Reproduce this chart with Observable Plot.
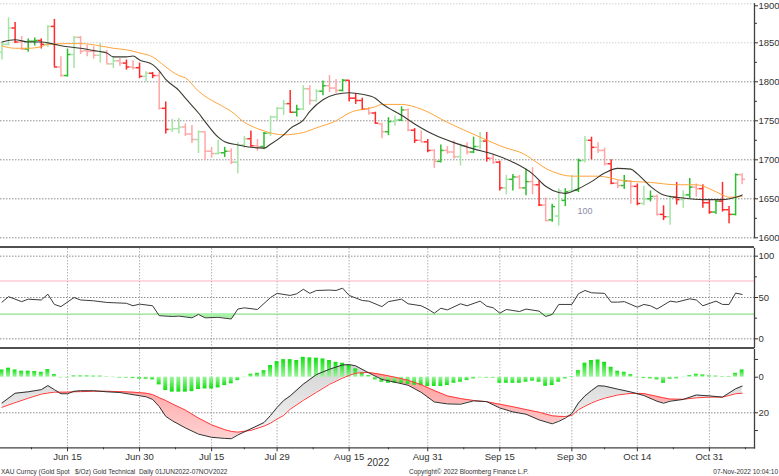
<!DOCTYPE html>
<html><head><meta charset="utf-8">
<script src="https://cdn.jsdelivr.net/npm/d3@7"></script>
<script src="https://cdn.jsdelivr.net/npm/@observablehq/plot@0.6"></script>
<style>
body{margin:0;background:#fff;}
#wrap{position:relative;width:779px;height:476px;overflow:hidden;font-family:"Liberation Sans",Arial,sans-serif;background:#fff;}
.panel{position:absolute;left:0;}
.sep{position:absolute;left:0;width:754px;height:2.5px;background:#505050;}
.txt{position:absolute;white-space:pre;color:#333;line-height:1;}
</style></head><body><div id="wrap"></div>
<script>
// ---------- DATA (trading-day index 0 = 1 Jun 2022 ... 113 = 7 Nov 2022) ----------
const opens  = [1838,1848,1869,1851,1842,1852,1853,1848,1871,1819,1808,1835,1857,1840,1839,1834,1838,1823,1827,1824,1819,1818,1807,1811,1808,1766,1739,1740,1742,1733,1726,1736,1711,1708,1709,1711,1697,1719,1727,1718,1717,1734,1755,1766,1772,1761,1765,1791,1776,1788,1795,1792,1789,1802,1779,1776,1765,1760,1746,1736,1749,1751,1764,1738,1725,1723,1712,1698,1712,1710,1704,1718,1710,1717,1724,1702,1697,1664,1675,1678,1664,1672,1668,1642,1623,1628,1648,1660,1661,1699,1725,1716,1712,1695,1670,1667,1673,1666,1644,1650,1653,1630,1627,1652,1649,1655,1665,1663,1645,1633,1647,1636,1630,1681];
const highs  = [1850,1882,1876,1858,1855,1856,1855,1872,1880,1832,1842,1858,1858,1847,1845,1849,1840,1832,1830,1828,1827,1824,1813,1812,1812,1774,1752,1753,1746,1744,1737,1736,1716,1725,1716,1714,1722,1730,1737,1726,1735,1756,1767,1776,1789,1770,1795,1795,1790,1801,1808,1803,1803,1802,1785,1779,1767,1761,1747,1754,1756,1768,1765,1740,1737,1726,1713,1719,1717,1724,1720,1722,1729,1735,1735,1707,1698,1680,1681,1680,1688,1690,1673,1651,1643,1663,1663,1680,1701,1730,1729,1722,1715,1700,1673,1680,1673,1669,1666,1660,1655,1641,1654,1671,1660,1676,1669,1668,1648,1648,1671,1640,1682,1682];
const lows   = [1828,1846,1849,1840,1838,1846,1842,1844,1819,1806,1806,1817,1835,1832,1829,1824,1823,1817,1820,1815,1815,1804,1800,1804,1764,1733,1735,1733,1730,1721,1708,1699,1702,1706,1703,1694,1682,1715,1716,1711,1713,1730,1750,1757,1760,1755,1763,1770,1774,1782,1786,1785,1787,1774,1771,1763,1757,1746,1727,1731,1743,1749,1736,1721,1722,1709,1689,1696,1707,1701,1692,1706,1708,1713,1697,1694,1660,1655,1660,1662,1654,1655,1640,1621,1620,1615,1640,1658,1658,1696,1700,1708,1692,1668,1663,1662,1643,1641,1641,1646,1628,1622,1616,1642,1638,1650,1652,1638,1630,1630,1633,1618,1628,1668];
const closes = [1848,1869,1851,1842,1852,1853,1848,1871,1819,1808,1835,1857,1839,1839,1834,1838,1823,1827,1824,1819,1818,1807,1811,1808,1766,1739,1740,1742,1733,1726,1736,1711,1708,1709,1711,1697,1719,1727,1718,1717,1734,1755,1766,1772,1761,1765,1791,1776,1788,1795,1792,1789,1802,1779,1776,1765,1760,1747,1736,1749,1751,1764,1738,1725,1723,1712,1698,1712,1710,1704,1718,1710,1717,1724,1702,1697,1664,1675,1678,1664,1672,1668,1642,1622,1640,1660,1659,1661,1699,1725,1716,1712,1695,1670,1667,1673,1666,1644,1650,1653,1630,1627,1652,1649,1655,1665,1663,1645,1633,1647,1636,1630,1681,1675];
// bar shade as printed: "b" strong, "p" light (10 days per group)
const tones = ["ppbpbbbpbp","bppppppppb","pbpbpbpppp","ppppbpppbp","bpppbbpppb",
               "ppbbbbpbpb","pbpbpbpbpp","ppbpbpbpbp","bpbpbpbpbp","bppbpbpbpb",
               "pbpbpbpbbb","bbbp"].join("").split("");

// moving averages (day index, value)
const maBlackDay = [0,2,4,6,8,10,12,14,16,17,19,20,21,23,24,25,27,28,30,31,33,34,36,38,40,41,43,44,46,47,49,51,53,55,57,58,61,63,66,69,72,75,78,81,83,85,86,88,90,92,94,96,97,99,101,104,107,110,112,113];
const maBlackVal = [1851,1854,1851,1851,1848,1845,1843,1840,1837,1832,1832,1833,1828,1822,1814,1803,1789,1779,1760,1749,1729,1723,1719,1716,1715,1720,1732,1740,1751,1762,1777,1784,1786,1784,1779,1772,1757,1746,1732,1722,1714,1707,1697,1682,1666,1658,1657,1663,1672,1683,1689,1688,1682,1666,1655,1651,1649,1649,1652,1655];
const maOrangeDay = [0,2,4,6,7,10,12,15,17,19,21,23,25,27,28,30,34,35,37,39,40,43,46,48,51,53,57,58,61,64,68,73,77,79,84,87,91,95,99,103,106,108,110,111,113];
const maOrangeVal = [1846,1843,1843,1845,1848,1849,1849,1846,1843,1841,1837,1832,1819,1808,1805,1788,1767,1762,1748,1740,1737,1732,1735,1741,1750,1760,1768,1771,1771,1765,1748,1729,1715,1710,1685,1679,1679,1673,1671,1668,1668,1663,1655,1652,1653];

// RSI panel
const rsiDay = [0,1,3,4,6,7,8,9,11,12,14,16,19,20,21,23,24,26,27,29,30,31,33,35,36,37,39,41,42,44,45,46,47,48,50,51,52,53,55,56,58,59,61,62,64,65,66,67,68,70,71,73,74,75,76,77,78,79,80,82,83,84,85,87,88,89,90,92,93,94,95,97,98,99,100,102,103,105,106,107,109,110,111,112,113];
const rsiVal = [44.4,51,45,48,47,54,41.6,39,50,47,46,44,43,40,42,40,28,27,27.5,25.4,29.5,25.4,26,24,36,37.5,35.5,50,55,52.5,54.5,60,55,58.5,59,58.5,61.3,52.5,46.4,45.6,39,45,48,42.4,40,36,31,37,35,42.4,40,45.6,39.5,37.5,31,35.5,34.3,33,36,33.5,27,29.5,41.6,41.6,54.5,58.5,55.7,55,44.4,44.4,45,38.3,41.6,40,36,45.6,44.4,48.4,47,40,45.6,41.6,41.6,55.3,53.7];
const rsiLevels = {over: 70, under: 30};

// MACD panel
const macdDay = [0,2,4,6,7,8,9,10,11,12,14,16,18,20,22,23,24,25,26,28,30,32,34,35,36,38,40,41,42,43,44,46,48,50,52,53,54,56,58,60,62,64,66,68,70,72,74,76,78,80,82,84,85,86,87,88,89,90,91,92,94,96,98,100,101,102,104,106,108,110,112,113];
const macdVal = [-14.5,-9,-8.2,-7,-4.7,-7,-9.3,-9.3,-7.9,-7.6,-7.6,-8.2,-8.6,-9.8,-11,-12.5,-16.5,-22,-24.5,-28.5,-32,-33.8,-34.4,-34.6,-32.5,-29,-25.5,-21.5,-17,-13.1,-10.5,-3.9,1.5,4.5,6.9,7.1,6.4,2.4,-1.2,-2.8,-4.5,-8.5,-13.9,-15,-15.2,-13.3,-13.7,-17.3,-19.5,-20.8,-24,-26.2,-24.8,-23,-20.5,-14.5,-10.5,-7.5,-4.8,-5,-6.7,-8.3,-10.3,-13.5,-14.6,-13.5,-12.5,-10,-10.5,-11.2,-6.5,-5];
const signalVal = [-16.9,-14.3,-11.8,-9.5,-8.9,-8.4,-8.4,-8.4,-8.2,-8.1,-7.9,-7.9,-8.1,-8.4,-9,-9.8,-11.5,-13.1,-15,-18.5,-23,-26.8,-29.5,-30.5,-30.9,-29.9,-27.5,-25.8,-23.5,-21.5,-18,-13,-8.5,-4,-0.5,1,2.3,2.7,1.5,0,-1.7,-4.2,-7.5,-10.5,-12,-13.1,-13.8,-15.2,-16.6,-18.2,-19.7,-21.7,-22,-22.1,-21.5,-18.3,-16.3,-14.5,-13,-11.8,-10,-9.1,-9.2,-10.8,-11.6,-12.3,-12.4,-11.6,-11.2,-11.2,-9.3,-9];
const histVal = [4.1,5.1,4.1,3.4,3.4,3.2,2.8,4.3,1.5,-0.3,-0.3,0.7,0.7,0.7,0.6,0.6,0.2,0.1,-0.4,-0.4,-0.7,-1.1,-1.1,-1.5,-4.3,-7.5,-8.4,-8.4,-8.4,-8.1,-6.9,-6.6,-6.6,-6,-4.7,-3.7,-1.9,-0.2,1.7,2.2,3.7,6.6,8.8,9.9,9.9,9.4,11.2,10.9,10.7,10.3,9.4,8.4,7.9,6.6,4.7,2.4,0.9,-1.5,-2.8,-3.4,-3.4,-3.4,-4,-4.5,-4.7,-5.2,-5.2,-5.2,-4.7,-3.4,-2.8,-1.9,-0.9,-0.3,-0.4,-0.4,-3.4,-3.4,-3.4,-3.4,-2.8,-2.2,-2.8,-5.1,-4.7,-2.8,-0.9,0.4,3.7,7.9,9.4,9.7,8.4,5.6,3.4,2.8,1.5,-0.3,-0.6,-0.9,-1.5,-3.4,-1.1,-0.9,-0.2,0.9,1.7,1.3,0.7,0.6,0.3,0.4,2.2,4.1];

// axes / labels
const dateTickDay = [10,21,32,42,53,65,76,87,97,108];
const dateTickLabel = ["Jun 15","Jun 30","Jul 15","Jul 29","Aug 15","Aug 31","Sep 15","Sep 30","Oct 14","Oct 31"];
const dateMinorDay = [4.5,15.5,26.5,37,47.5,59,70.5,81.5,92,102.5,113.5];
const priceTicks = [1600,1650,1700,1750,1800,1850];
const priceTopTick = [1900];
const priceMinorTicks = [1625,1675,1725,1775,1825,1875];
const priceGridStrong = [1600,1650,1700,1750,1800];
const priceGridFaint = [1850,1900];
const rsiTicks = [0,50,100];
const rsiMinorTicks = [25,75];
const macdTicks = [10,0,-20,-30];
const macdLabelled = [0,-20];
const notes = [{day: 89, value: 1634, text: "100"}];
const yearLabel = "2022";
const footLeft = "XAU Curncy (Gold Spot   $/Oz) Gold Technical  Daily 01JUN2022-07NOV2022";
const footMid = "Copyright\u00a9 2022 Bloomberg Finance L.P.";
const footRight = "07-Nov-2022 10:04:10";

// ---------- BUILD ----------
const FONT = '"Liberation Sans", Arial, sans-serif';
const xDef = {type: "linear", domain: [-0.229, 114.885], axis: null};
const shade = {up: {b: "#2ebd2e", p: "#a6e3a6"}, down: {b: "#ff2a2a", p: "#ffa6a6"}};
const bars = opens.map((o, i) => ({
  i, o, h: highs[i], l: lows[i], c: closes[i],
  col: shade[closes[i] >= o ? "up" : "down"][tones[i]]
}));
const maBlack = maBlackDay.map((d, k) => ({d, v: maBlackVal[k]}));
const maOrange = maOrangeDay.map((d, k) => ({d, v: maOrangeVal[k]}));
const rsi = rsiDay.map((d, k) => ({d, v: rsiVal[k]}));
const macd = macdDay.map((d, k) => ({d, m: macdVal[k], s: signalVal[k]}));
const hist = histVal.map((v, i) => ({i, v}));
const wrap = document.getElementById("wrap");
const style = {fontFamily: FONT, fontSize: "10px", color: "#333", background: "transparent", overflow: "visible"};
const plain = d => String(d);

function place(el, top) { el.classList.add("panel"); el.style.top = top + "px"; wrap.appendChild(el); }
const dotted = {strokeOpacity: 1, strokeDasharray: "1.5,1.5"};

// Price panel
const pricePlot = Plot.plot({
  width: 779, height: 246, marginLeft: 0, marginRight: 25, marginTop: 3.3, marginBottom: 8.7,
  x: xDef, y: {domain: [1600, 1900], axis: null}, color: {type: "identity"}, style,
  marks: [
    Plot.gridY({ticks: priceGridStrong, stroke: "#8c8c8c", ...dotted}),
    Plot.gridY({ticks: priceGridFaint, stroke: "#d0d0d0", ...dotted}),
    Plot.ruleX(bars, {x: "i", y1: "l", y2: "h", stroke: "col", strokeWidth: 1.5}),
    Plot.ruleY(bars, {y: "o", x1: d => d.i - 0.5, x2: "i", stroke: "col", strokeWidth: 1.5}),
    Plot.ruleY(bars, {y: "c", x1: "i", x2: d => d.i + 0.5, stroke: "col", strokeWidth: 1.5}),
    Plot.line(maOrange, {x: "d", y: "v", stroke: "#ffa43a", strokeWidth: 1, curve: "monotone-x"}),
    Plot.line(maBlack, {x: "d", y: "v", stroke: "#3a3a30", strokeWidth: 1.1, curve: "monotone-x"}),
    Plot.text(notes, {x: "day", y: "value", text: "text", fill: "#8d8da6", fontSize: 9}),
    Plot.frame({anchor: "right", stroke: "#404040", strokeWidth: 1.3}),
    Plot.axisY({anchor: "right", ticks: priceTicks, tickSize: 3, tickPadding: 1, label: null, fill: "#333", fontSize: 9.5, tickFormat: plain}),
    Plot.axisY({anchor: "right", ticks: priceTopTick, tickSize: 3, tickPadding: 1, label: null, fill: "#333", fontSize: 9.5, tickFormat: plain, dy: 2}),
    Plot.axisY({anchor: "right", ticks: priceMinorTicks, tickSize: 2, tickFormat: () => "", label: null})
  ]
});
place(pricePlot, 0);

// RSI panel
const rsiPlot = Plot.plot({
  width: 779, height: 99, marginLeft: 0, marginRight: 25, marginTop: 0, marginBottom: 0,
  x: xDef, y: {domain: [-10.5, 109.3], axis: null}, color: {type: "identity"}, style,
  marks: [
    Plot.gridX({ticks: dateTickDay, stroke: "#b0b0b0", ...dotted}),
    Plot.gridY({ticks: rsiTicks, stroke: "#8c8c8c", ...dotted}),
    Plot.ruleY([rsiLevels.over], {stroke: "#ffb3bd", strokeWidth: 1.2}),
    Plot.ruleY([rsiLevels.under], {stroke: "#8ee08e", strokeWidth: 1.2}),
    Plot.areaY(rsi, {x: "d", y1: () => rsiLevels.under, y2: d => Math.min(d.v, rsiLevels.under), fill: "#a8f2a8"}),
    Plot.line(rsi, {x: "d", y: "v", stroke: "#3c3c3c", strokeWidth: 1}),
    Plot.frame({anchor: "right", stroke: "#404040", strokeWidth: 1.3}),
    Plot.axisY({anchor: "right", ticks: rsiTicks, tickSize: 3, tickPadding: 1, label: null, fill: "#333", fontSize: 9.5, tickFormat: plain}),
    Plot.axisY({anchor: "right", ticks: rsiMinorTicks, tickSize: 2, tickFormat: () => "", label: null})
  ]
});
place(rsiPlot, 248);

// MACD panel
const labelOf = new Map(dateTickDay.map((d, k) => [d, dateTickLabel[k]]));
const macdPlot = Plot.plot({
  width: 779, height: 127, marginLeft: 0, marginRight: 25, marginTop: 0, marginBottom: 28.7,
  x: xDef, y: {domain: [-39.7, 15.6], axis: null}, color: {type: "identity"}, style,
  marks: [
    Plot.gridX({ticks: dateTickDay, stroke: "#b0b0b0", ...dotted}),
    Plot.gridY({ticks: [-20], stroke: "#8c8c8c", ...dotted}),
    Plot.areaY(macd, {x: "d", y1: "s", y2: d => Math.min(d.m, d.s), fill: "url(#gpink)"}),
    Plot.areaY(macd, {x: "d", y1: "s", y2: d => Math.max(d.m, d.s), fill: "url(#ggray)"}),
    Plot.rectY(hist.filter(d => d.v >= 0), {x1: d => d.i - 0.3, x2: d => d.i + 0.3, y1: () => 0, y2: "v", fill: "url(#gpos)"}),
    Plot.rectY(hist.filter(d => d.v < 0), {x1: d => d.i - 0.3, x2: d => d.i + 0.3, y1: () => 0, y2: "v", fill: "url(#gneg)"}),
    Plot.line(macd, {x: "d", y: "s", stroke: "#ff3b3b", strokeWidth: 1}),
    Plot.line(macd, {x: "d", y: "m", stroke: "#303030", strokeWidth: 1}),
    Plot.frame({anchor: "right", stroke: "#404040", strokeWidth: 1.3}),
    Plot.frame({anchor: "bottom", stroke: "#404040", strokeWidth: 1.3}),
    Plot.axisY({anchor: "right", ticks: macdTicks, tickSize: 3, tickPadding: 1, label: null, fill: "#333", fontSize: 9.5,
      tickFormat: v => macdLabelled.includes(v) ? String(Math.abs(v)) : ""}),
    Plot.axisX({ticks: dateTickDay, tickSize: 4, tickPadding: 1, label: null, fill: "#333", fontSize: 9.5,
      tickFormat: d => labelOf.get(d)}),
    Plot.axisX({ticks: dateMinorDay, tickSize: 2, tickFormat: () => "", label: null})
  ]
});
const ns = "http://www.w3.org/2000/svg";
const defs = document.createElementNS(ns, "defs");
defs.innerHTML =
  '<linearGradient id="gpos" x1="0" y1="0" x2="0" y2="1"><stop offset="0" stop-color="#12e012"/><stop offset="1" stop-color="#9ef59e"/></linearGradient>' +
  '<linearGradient id="gneg" x1="0" y1="0" x2="0" y2="1"><stop offset="0" stop-color="#9ef59e"/><stop offset="1" stop-color="#12e012"/></linearGradient>' +
  '<linearGradient id="gpink" x1="0" y1="0" x2="0" y2="1"><stop offset="0" stop-color="#ff9a9a"/><stop offset="1" stop-color="#ffd2d2"/></linearGradient>' +
  '<linearGradient id="ggray" x1="0" y1="0" x2="0" y2="1"><stop offset="0" stop-color="#d4d4d4"/><stop offset="1" stop-color="#f2f2f2"/></linearGradient>';
macdPlot.insertBefore(defs, macdPlot.firstChild);
place(macdPlot, 349);

// separators
[245.5, 346.5].forEach(t => { const s = document.createElement("div"); s.className = "sep"; s.style.top = t + "px"; wrap.appendChild(s); });

// texts
function addText(str, left, top, size, extra) {
  const t = document.createElement("div"); t.className = "txt"; t.textContent = str;
  t.style.left = left + "px"; t.style.top = top + "px"; t.style.fontSize = size + "px";
  Object.assign(t.style, extra || {}); wrap.appendChild(t);
}
addText(yearLabel, 367, 457.5, 10);
addText(footLeft, 1, 468.5, 6.5);
addText(footMid, 409, 468.5, 6.5);
addText(footRight, 0, 468.5, 6.5, {left: "auto", right: "1px"});
</script></body></html>
